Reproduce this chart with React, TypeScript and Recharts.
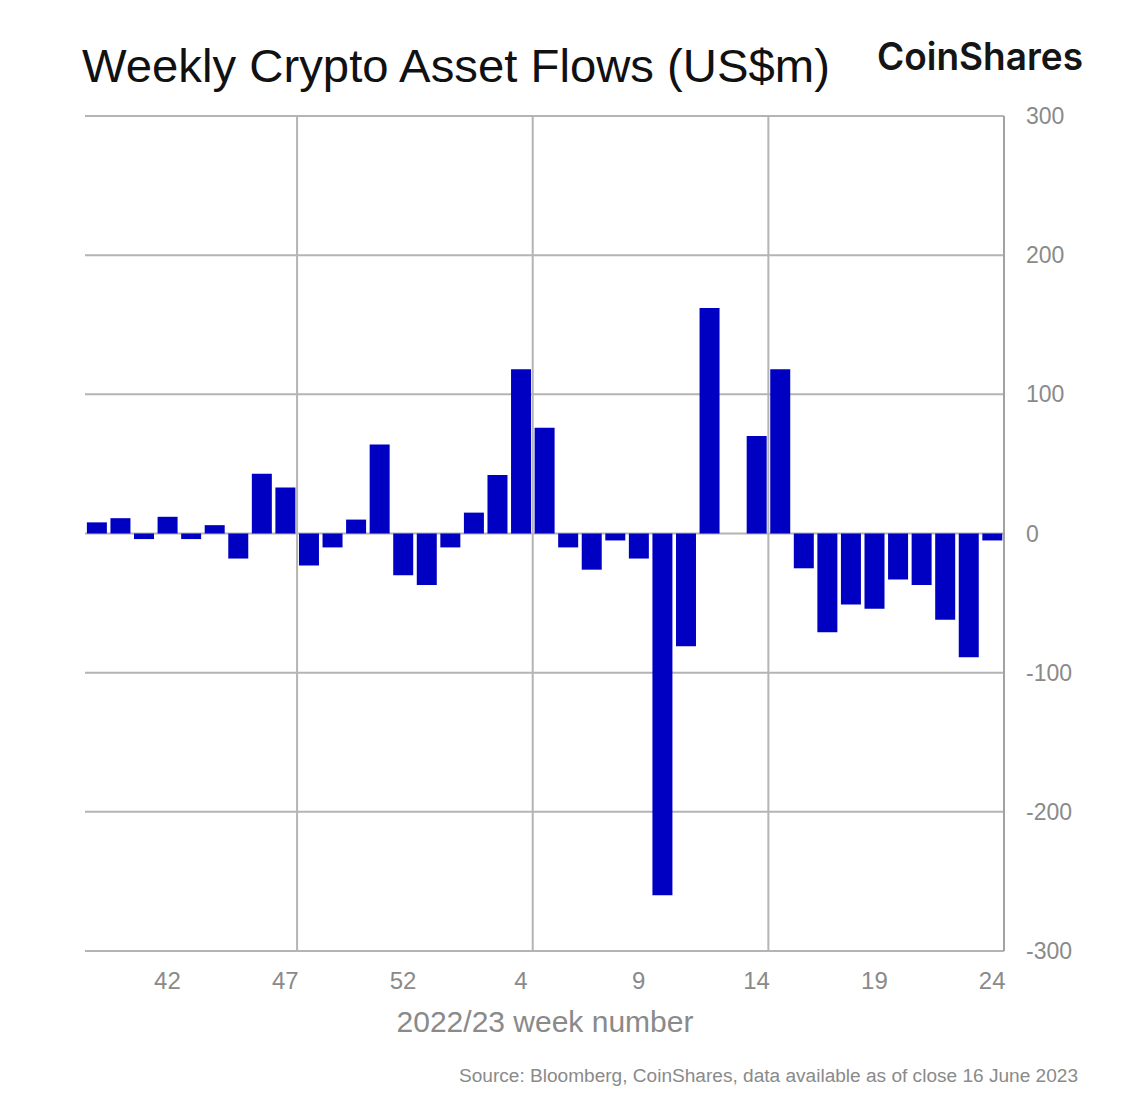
import React from "react";
import {
  BarChart,
  Bar,
  XAxis,
  YAxis,
  CartesianGrid,
  ReferenceLine,
} from "recharts";

// week labels, 2022 week 39 to 2023 week 24
const weeks = [
  "39", "40", "41", "42", "43", "44", "45", "46", "47", "48", "49", "50", "51", "52",
  "53", "1", "2", "3", "4", "5", "6", "7", "8", "9", "10", "11", "12", "13",
  "14", "15", "16", "17", "18", "19", "20", "21", "22", "23", "24",
];

// weekly flows, US$m
const flows = [
  8, 11, -4, 12, -4, 6, -18, 43, 33, -23, -10, 10, 64, -30,
  -37, -10, 15, 42, 118, 76, -10, -26, -5, -18, -260, -81, 162, 0,
  70, 118, -25, -71, -51, -54, -33, -37, -62, -89, -5,
];

const weekTicks = ["42", "47", "52", "4", "9", "14", "19", "24"];
const valueTicks = [-300, -200, -100, 0, 100, 200, 300];
// vertical grid lines sit between bars, every 10 weeks
const gridPositions = [9, 19, 29];

const data = weeks.map((week, i) => ({ week, value: flows[i] }));

const FONT = '"Liberation Sans", Arial, sans-serif';
const GREY = "#8a8a8a";
const LINE = "#b4b4b4";

export default function App() {
  return (
    <div style={{ position: "relative", width: 1146, height: 1114, background: "#fff", fontFamily: FONT }}>
      <style>{"body{margin:0}"}</style>
      <BarChart
        width={1146}
        height={1114}
        data={data}
        margin={{ top: 116, right: 42, bottom: 103, left: 85 }}
        barCategoryGap="8%"
      >
        <XAxis xAxisId="grid" type="number" dataKey="value" domain={[0, 39]} allowDataOverflow ticks={gridPositions} hide />
        <CartesianGrid
          xAxisId="grid"
          yAxisId="flows"
          vertical={false}
          stroke={LINE}
          strokeWidth={2}
        />
        {gridPositions.map((p) => (
          <ReferenceLine key={p} xAxisId="grid" yAxisId="flows" x={p} stroke={LINE} strokeWidth={2} />
        ))}
        <XAxis
          xAxisId="cat"
          dataKey="week"
          type="category"
          ticks={weekTicks}
          interval={0}
          height={60}
          axisLine={false}
          tickLine={false}
          tickSize={0}
          tickMargin={21}
          padding={{ left: 0, right: 0 }}
          tick={{ fill: GREY, fontSize: 24, fontFamily: FONT }}
        />
        <YAxis
          yAxisId="flows"
          orientation="right"
          domain={[-300, 300]}
          ticks={valueTicks}
          width={100}
          axisLine={{ stroke: "#a2a2a2", strokeWidth: 2 }}
          tickLine={false}
          tickSize={0}
          tickMargin={22}
          tick={{ fill: GREY, fontSize: 23, fontFamily: FONT, textAnchor: "start" }}
        />
        <Bar
          xAxisId="cat"
          yAxisId="flows"
          dataKey="value"
          fill="#0000c2"
          isAnimationActive={false}
        />
      </BarChart>
      <svg
        width={1146}
        height={1114}
        style={{ position: "absolute", left: 0, top: 0, pointerEvents: "none" }}
      >
        <text x={82} y={82} fontSize={47} fill="#111" fontFamily={FONT} textLength={748} lengthAdjust="spacingAndGlyphs">
          Weekly Crypto Asset Flows (US$m)
        </text>
        <text x={877} y={70} fontSize={38} fontWeight={600} fill="#151515" fontFamily='Inter, "Liberation Sans", sans-serif' textLength={206} lengthAdjust="spacingAndGlyphs">
          CoinShares
        </text>
        <text x={545} y={1032} fontSize={30} fill={GREY} fontFamily={FONT} textAnchor="middle">
          2022/23 week number
        </text>
        <text x={1078} y={1082} fontSize={18} fill={GREY} fontFamily={FONT} textAnchor="end" textLength={619} lengthAdjust="spacingAndGlyphs">
          Source: Bloomberg, CoinShares, data available as of close 16 June 2023
        </text>
      </svg>
    </div>
  );
}
